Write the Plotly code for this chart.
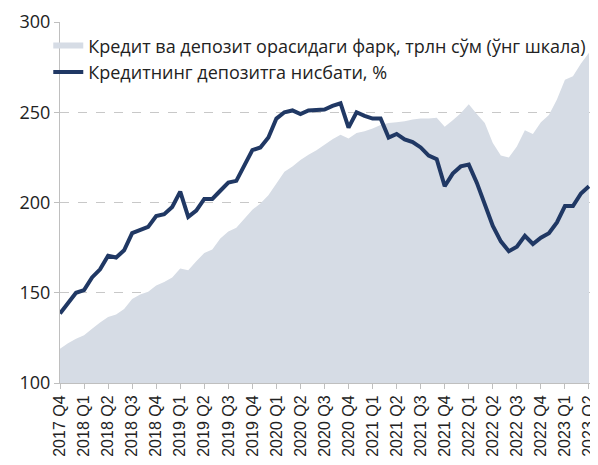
import plotly.graph_objects as go

quarter_labels = ["2017 Q4", "2018 Q1", "2018 Q2", "2018 Q3", "2018 Q4", "2019 Q1", "2019 Q2",
                  "2019 Q3", "2019 Q4", "2020 Q1", "2020 Q2", "2020 Q3", "2020 Q4", "2021 Q1",
                  "2021 Q2", "2021 Q3", "2021 Q4", "2022 Q1", "2022 Q2", "2022 Q3", "2022 Q4",
                  "2023 Q1", "2023 Q2"]

# monthly values, from 2017 Q4 to 2023 Q2
gap_trln = [119, 122, 124.5, 126.5, 130, 133.5, 136.5, 138, 141, 146.5, 149, 150.5,
            154, 156, 158.5, 163.5, 162.5, 167.5, 172, 174, 180, 184, 186, 191,
            196, 199.5, 204, 210.5, 217, 220, 223.5, 226.5, 229, 232, 235, 237.5,
            235.5, 238.5, 239.5, 241, 243, 244, 244.5, 245, 246, 246.5, 246.5, 247,
            242, 245.5, 249.5, 254.5, 249, 244, 233, 226, 225, 231, 240, 238,
            244.5, 248.5, 257, 268, 270, 277, 283]

ratio_pct = [138.5, 144, 150, 151.5, 158.5, 163, 170.5, 169.5, 173.5, 183, 185, 186.5,
             192.5, 193.5, 197.5, 206, 192, 195.5, 202, 202, 206.5, 211, 212, 221,
             229, 230.5, 236, 246.5, 250, 251, 249, 251, 251.5, 251.5, 253.5, 255,
             241.5, 250, 248, 246.5, 246.5, 236, 238, 235, 233.5, 230.5, 226, 224,
             209, 216, 220, 221, 211, 199, 187, 178.5, 173, 175.5, 181.5, 177,
             180.5, 183, 189, 198, 198, 205, 209]

gap_name = "Кредит ва депозит орасидаги фарқ, трлн сўм (ўнг шкала)"
ratio_name = "Кредитнинг депозитга нисбати, %"

months = list(range(len(gap_trln)))
tick_pos = [3 * k for k in range(len(quarter_labels))]

fig = go.Figure()
fig.add_trace(go.Scatter(x=months, y=gap_trln, name=gap_name, mode="none",
                         fill="tozeroy", fillcolor="#D6DCE5"))
fig.add_trace(go.Scatter(x=months, y=ratio_pct, name=ratio_name, mode="lines",
                         line=dict(color="#203864", width=4)))
# invisible trace to activate right axis
fig.add_trace(go.Scatter(x=[0], y=[100], yaxis="y2", mode="none", showlegend=False,
                         hoverinfo="skip"))

# the page body has an 8px margin, so the figure is 8px smaller on each far side
fig.update_layout(
    width=590, height=457,
    margin=dict(l=52, r=5, t=14, b=82, autoexpand=False),
    plot_bgcolor="white", paper_bgcolor="white",
    showlegend=True,
    legend=dict(x=-0.022, y=0.985, xanchor="left", yanchor="top",
                bgcolor="rgba(0,0,0,0)", font=dict(family="Open Sans", size=18, color="#222222"),
                tracegroupgap=0, itemwidth=30),
    xaxis=dict(range=[0, 66.5], tickmode="array", tickvals=tick_pos, ticktext=quarter_labels,
               tickangle=-90, ticks="outside", ticklen=5, tickcolor="#BFBFBF", automargin=False,
               showline=True, linecolor="#BFBFBF", linewidth=1, showgrid=False, zeroline=False,
               tickfont=dict(family="Liberation Sans, Arial", size=16, color="#222222")),
    yaxis=dict(range=[100, 300], tickvals=[100, 150, 200, 250, 300], ticks="outside",
               ticklen=5, tickcolor="#BFBFBF", showline=True, linecolor="#BFBFBF", linewidth=1,
               showgrid=True, gridcolor="#C8C8C8", griddash="dash", gridwidth=1, zeroline=False,
               automargin=False,
               tickfont=dict(family="Open Sans", size=18, color="#222222")),
    yaxis2=dict(range=[100, 300], overlaying="y", side="right", tickvals=[100, 150, 200, 250, 300],
                ticks="outside", ticklen=5, tickcolor="#BFBFBF", showline=True, automargin=False,
                linecolor="#BFBFBF", linewidth=1, showgrid=False, zeroline=False,
                showticklabels=False),
)

fig.write_html("out.html")
